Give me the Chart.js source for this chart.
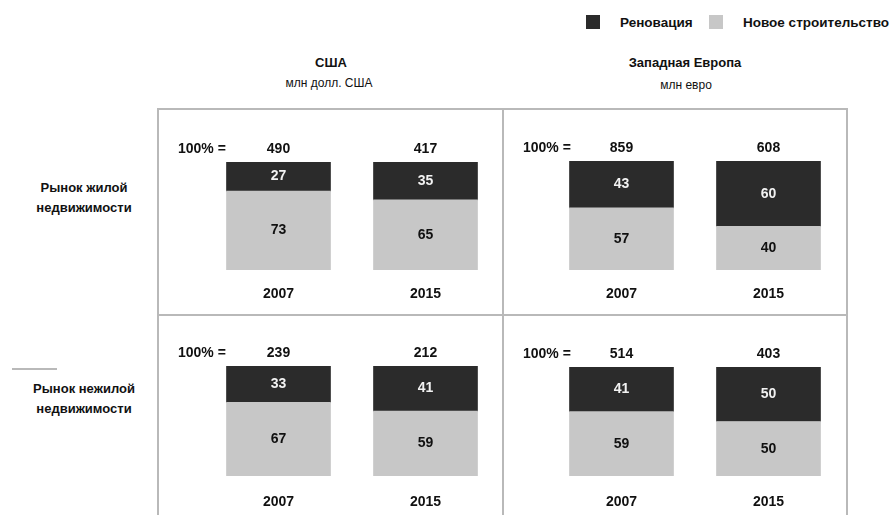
<!DOCTYPE html>
<html lang="ru">
<head>
<meta charset="utf-8">
<title>Рынок недвижимости: реновация и новое строительство</title>
<script src="https://cdn.jsdelivr.net/npm/chart.js@4"></script>
<style>
  html, body { margin: 0; padding: 0; background: #fff; }
  body { width: 890px; height: 515px; overflow: hidden; position: relative;
         font-family: "Liberation Sans", Arial, sans-serif; color: #111; }
  .txt { position: absolute; white-space: nowrap; }
  .bold { font-weight: bold; }
  .line { position: absolute; background: #b9b9b9; }
  canvas { position: absolute; }
  .swatch { position: absolute; width: 14px; height: 14px; }
</style>
</head>
<body>
<script>
// Years shown under each pair of bars
const years = ['2007', '2015'];

// Column and row headings
const regions = ['США', 'Западная Европа'];
const units = ['млн долл. США', 'млн евро'];
const marketsLine1 = ['Рынок жилой', 'Рынок нежилой'];
const marketsLine2 = ['недвижимости', 'недвижимости'];
const seriesNames = ['Реновация', 'Новое строительство'];

// Residential market, USA (млн долл. США; shares in %)
const totalsUsResidential = [490, 417];
const renovationUsResidential = [27, 35];
const newBuildUsResidential = [73, 65];

// Residential market, Western Europe (млн евро; shares in %)
const totalsEuResidential = [859, 608];
const renovationEuResidential = [43, 60];
const newBuildEuResidential = [57, 40];

// Non-residential market, USA
const totalsUsCommercial = [239, 212];
const renovationUsCommercial = [33, 41];
const newBuildUsCommercial = [67, 59];

// Non-residential market, Western Europe
const totalsEuCommercial = [514, 403];
const renovationEuCommercial = [41, 50];
const newBuildEuCommercial = [59, 50];

const DARK = '#2b2b2b';
const LIGHT = '#c7c7c7';
const FONT = '"Liberation Sans", Arial, sans-serif';

function addText(text, x, y, opts) {
  const d = document.createElement('div');
  d.className = 'txt' + (opts.bold ? ' bold' : '');
  d.textContent = text;
  d.style.fontSize = opts.size + 'px';
  d.style.lineHeight = opts.size + 'px';
  d.style.top = (y - opts.size / 2) + 'px';
  d.style.left = x + 'px';
  if (opts.align === 'center') d.style.transform = 'translateX(-50%)';
  document.body.appendChild(d);
}

function addLine(x, y, w, h) {
  const d = document.createElement('div');
  d.className = 'line';
  Object.assign(d.style, { left: x + 'px', top: y + 'px', width: w + 'px', height: h + 'px' });
  document.body.appendChild(d);
}

// Legend
[[DARK, 586, 620], [LIGHT, 709, 743]].forEach(([color, sx, tx], i) => {
  const s = document.createElement('div');
  s.className = 'swatch';
  Object.assign(s.style, { left: sx + 'px', top: '15px', background: color });
  document.body.appendChild(s);
  addText(seriesNames[i], tx, 23, { size: 13.5, bold: true });
});

// Column headings
addText(regions[0], 331, 62, { size: 13, bold: true, align: 'center' });
addText(units[0], 329, 83, { size: 12, align: 'center' });
addText(regions[1], 685, 62, { size: 13, bold: true, align: 'center' });
addText(units[1], 686, 85, { size: 12, align: 'center' });

// Row headings
addText(marketsLine1[0], 84, 187, { size: 13, bold: true, align: 'center' });
addText(marketsLine2[0], 84, 207, { size: 13, bold: true, align: 'center' });
addText(marketsLine1[1], 84, 388, { size: 13, bold: true, align: 'center' });
addText(marketsLine2[1], 84, 408, { size: 13, bold: true, align: 'center' });

// Panel frame
addLine(157, 108, 691, 2);   // top
addLine(157, 108, 2, 407);   // left
addLine(502, 108, 2, 407);   // middle vertical
addLine(846, 108, 2, 407);   // right
addLine(157, 314, 691, 2);   // middle horizontal
addLine(12, 368, 45, 2);     // short rule left of lower heading

// Draws the segment shares and the "100% =" totals
const labelsPlugin = {
  id: 'shareLabels',
  afterDatasetsDraw(chart, args, opts) {
    const ctx = chart.ctx;
    ctx.save();
    ctx.textAlign = 'center';
    ctx.textBaseline = 'middle';
    ctx.font = 'bold 14px ' + FONT;
    chart.data.datasets.forEach((ds, i) => {
      const meta = chart.getDatasetMeta(i);
      meta.data.forEach((bar, j) => {
        ctx.fillStyle = ds.labelColor;
        ctx.fillText(String(ds.data[j]), bar.x, (bar.y + bar.base) / 2);
      });
    });
    const topY = chart.scales.y.getPixelForValue(100) - 13;
    ctx.fillStyle = '#111';
    chart.getDatasetMeta(0).data.forEach((bar, j) => {
      ctx.fillText(String(opts.totals[j]), bar.x, topY);
    });
    ctx.textAlign = 'left';
    ctx.fillText('100% =', 19, topY);
    ctx.restore();
  }
};

function makePanel(left, top, height, padTop, axisH, tickPad, padLeft, totals, renovation, newBuild) {
  const canvas = document.createElement('canvas');
  canvas.width = 343;
  canvas.height = height;
  canvas.style.left = left + 'px';
  canvas.style.top = top + 'px';
  canvas.style.width = '343px';
  canvas.style.height = height + 'px';
  document.body.appendChild(canvas);
  new Chart(canvas, {
    type: 'bar',
    data: {
      labels: years,
      datasets: [
        { label: seriesNames[1], data: newBuild, backgroundColor: LIGHT, labelColor: '#111',
          barThickness: 104, borderWidth: 0 },
        { label: seriesNames[0], data: renovation, backgroundColor: DARK, labelColor: '#f2f2f2',
          barThickness: 104, borderWidth: 0 }
      ]
    },
    options: {
      responsive: false,
      animation: false,
      devicePixelRatio: 1,
      layout: { padding: { top: padTop, left: padLeft, right: 343 - padLeft - 294, bottom: 0 } },
      plugins: {
        legend: { display: false },
        tooltip: { enabled: false },
        shareLabels: { totals: totals }
      },
      scales: {
        x: {
          stacked: true,
          grid: { display: false, drawTicks: false },
          border: { display: false },
          ticks: { color: '#111', font: { family: FONT, size: 14, weight: 'bold' }, padding: tickPad },
          afterFit(scale) { scale.height = axisH; }
        },
        y: { stacked: true, min: 0, max: 100, display: false }
      }
    },
    plugins: [labelsPlugin]
  });
}

makePanel(159, 110, 204, 52, 44, 16, 46, totalsUsResidential, renovationUsResidential, newBuildUsResidential);
makePanel(504, 110, 204, 51, 44, 16, 44, totalsEuResidential, renovationEuResidential, newBuildEuResidential);
makePanel(159, 316, 199, 50, 39, 18, 46, totalsUsCommercial, renovationUsCommercial, newBuildUsCommercial);
makePanel(504, 316, 199, 51, 39, 18, 44, totalsEuCommercial, renovationEuCommercial, newBuildEuCommercial);
</script>
</body>
</html>
